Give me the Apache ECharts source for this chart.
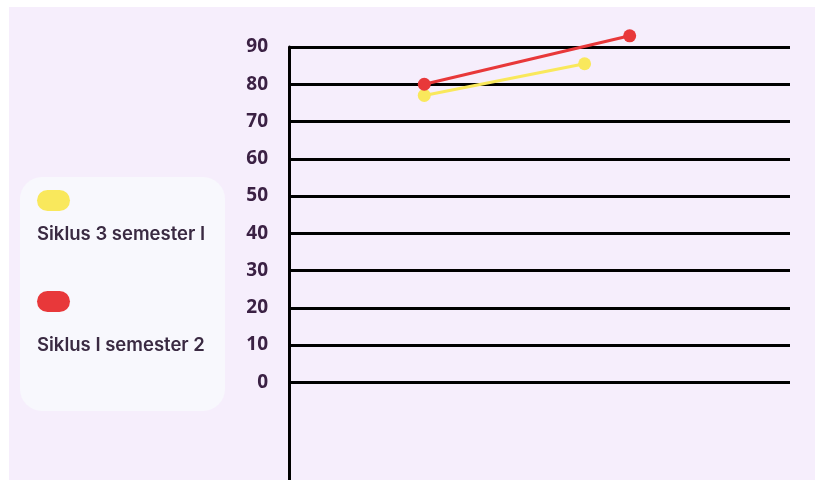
<!DOCTYPE html>
<html>
<head>
<meta charset="utf-8">
<script src="https://cdn.jsdelivr.net/npm/echarts@6/dist/echarts.min.js"></script>
<style>
html,body{margin:0;padding:0;background:#ffffff;}
#chart{width:815px;height:480px;}
</style>
</head>
<body>
<div id="chart"></div>
<script>
// ---- data ----
var seriesNames = ['Siklus 3 semester I', 'Siklus I semester 2'];
var seriesColors = ['#f9e85c', '#e8383a'];
var xPositions = [[27, 59], [27, 68]];          // horizontal placement (no axis labels shown)
var seriesValues = [[77, 85.5], [80, 93]];
var yTicks = [0, 10, 20, 30, 40, 50, 60, 70, 80, 90];

var yMin = -30, yMax = 90, yInterval = 10;

var chart = echarts.init(document.getElementById('chart'));

// split line colours per tick (hide ticks below 0)
var splitColors = [];
for (var v = yMin; v <= yMax; v += yInterval) {
  splitColors.push(yTicks.indexOf(v) >= 0 ? '#000000' : 'rgba(0,0,0,0)');
}

var series = seriesNames.map(function (name, i) {
  return {
    name: name,
    type: 'line',
    clip: false,
    data: seriesValues[i].map(function (val, j) { return [xPositions[i][j], val]; }),
    symbol: 'circle',
    symbolSize: 13,
    lineStyle: { color: seriesColors[i], width: 3 },
    itemStyle: { color: seriesColors[i] },
    z: 3 + i
  };
});

var legendGraphics = [
  { type: 'rect', left: 9, top: 7, shape: { width: 806, height: 473 }, style: { fill: '#f6eefc' }, z: -10 },
  { type: 'rect', left: 20, top: 177, shape: { width: 205, height: 234, r: 22 }, style: { fill: '#f8f8fd' }, z: -5 }
];
seriesNames.forEach(function (name, i) {
  legendGraphics.push({
    type: 'rect', left: 37, top: 190 + i * 101,
    shape: { width: 33, height: 21, r: 10.5 },
    style: { fill: seriesColors[i] }, z: 10
  });
  legendGraphics.push({
    type: 'text', left: 37, top: 225 + i * 111,
    style: { text: name, fill: '#3a2a42', font: '600 18.5px Inter, "Noto Sans", sans-serif' }, z: 10
  });
});

chart.setOption({
  backgroundColor: '#ffffff',
  animation: false,
  graphic: legendGraphics,
  grid: { left: 289, width: 501, top: 47, height: 447, containLabel: false, outerBoundsMode: 'none' },
  xAxis: {
    type: 'value', min: 0, max: 100, show: false
  },
  yAxis: {
    type: 'value', min: yMin, max: yMax, interval: yInterval,
    axisLine: { show: true, lineStyle: { color: '#000000', width: 3 } },
    axisTick: { show: false },
    axisLabel: {
      margin: 21,
      color: '#3b2144',
      fontSize: 19,
      fontWeight: 'bold',
      fontFamily: '"Noto Sans", Lato, sans-serif',
      formatter: function (v) { return yTicks.indexOf(v) >= 0 ? String(v) : ''; }
    },
    splitLine: { show: true, lineStyle: { color: splitColors, width: 3 } }
  },
  series: series
});
</script>
</body>
</html>
